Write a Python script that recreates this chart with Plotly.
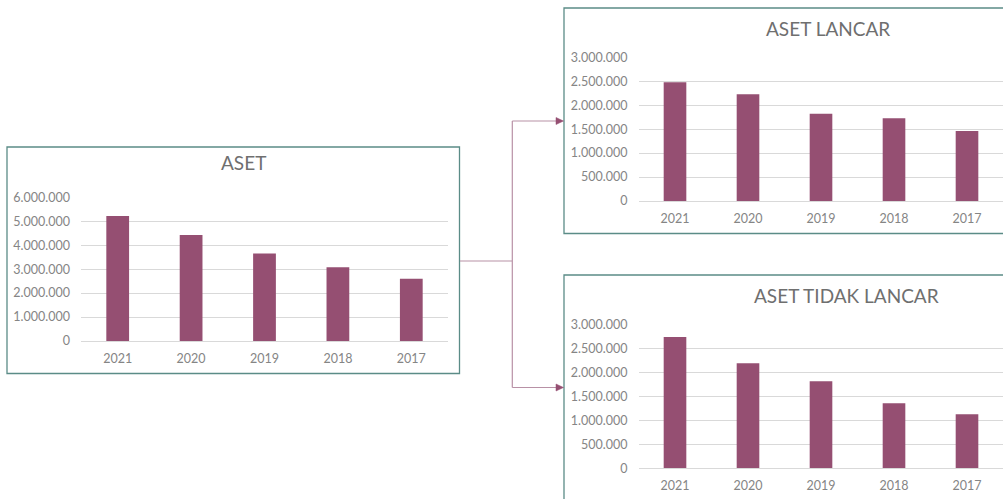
import plotly.graph_objects as go

years = ["2021", "2020", "2019", "2018", "2017"]
aset = [5220000, 4430000, 3650000, 3080000, 2600000]
aset_lancar = [2480000, 2230000, 1820000, 1730000, 1460000]
aset_tidak_lancar = [2750000, 2200000, 1820000, 1360000, 1130000]
titles = ["ASET", "ASET LANCAR", "ASET TIDAK LANCAR"]

W, H = 1003, 499
BAR = "#954f72"
GRID = "#d9d9d9"
BORDER = "#5b8c87"
CONN = "#b891a6"
TICK = "#858585"
FONT = "Lato"


def X(px):
    return px / W


def Y(py):
    return 1 - py / H


fig = go.Figure()

panels = [
    (aset, "", (81, 448), (341, 197.3), 6000000, 1000000),
    (aset_lancar, "2", (638.5, 1003), (201, 57.3), 3000000, 500000),
    (aset_tidak_lancar, "3", (638.5, 1003), (468.3, 325), 3000000, 500000),
]

layout_axes = {}
for vals, sid, (x0, x1), (yb, yt), ymax, dt in panels:
    fig.add_trace(go.Bar(
        x=years, y=vals, marker=dict(color=BAR, line=dict(width=0)),
        xaxis="x" + sid, yaxis="y" + sid, showlegend=False,
        hoverinfo="x+y",
    ))
    xr = [-0.5, 4.5] if x1 - x0 > 366 else [-0.5, -0.5 + (x1 - x0) / 73.0]
    layout_axes["xaxis" + sid] = dict(
        domain=[X(x0), X(x1)], anchor="y" + sid, type="category",
        range=xr, showgrid=False, zeroline=False, showline=True,
        linecolor=GRID, linewidth=1, ticks="", ticklabelstandoff=6,
        automargin=False,
        tickfont=dict(family=FONT, size=12.5, color=TICK), fixedrange=True,
    )
    layout_axes["yaxis" + sid] = dict(
        domain=[Y(yb), Y(yt)], anchor="x" + sid, range=[0, ymax],
        dtick=dt, tick0=0, showgrid=True, gridcolor=GRID, gridwidth=1,
        zeroline=False, showline=False, ticks="", ticklabelstandoff=10,
        tickformat=",d", automargin=False,
        tickfont=dict(family=FONT, size=12.5, color=TICK), fixedrange=True,
    )

shapes = []
for (bx0, by0, bx1, by1) in [(7, 147, 459.5, 373.5), (564, 8, 1015, 233.5), (564, 275, 1015, 515)]:
    shapes.append(dict(type="rect", xref="paper", yref="paper",
                       x0=X(bx0), x1=X(bx1), y0=Y(by1), y1=Y(by0),
                       line=dict(color=BORDER, width=1.3), layer="above"))

path = (f"M {X(460)} {Y(261)} L {X(512.3)} {Y(261)} "
        f"M {X(512.3)} {Y(121)} L {X(512.3)} {Y(387.5)} "
        f"M {X(512.3)} {Y(121)} L {X(557)} {Y(121)} "
        f"M {X(512.3)} {Y(387.5)} L {X(557)} {Y(387.5)}")
shapes.append(dict(type="path", xref="paper", yref="paper", path=path,
                   line=dict(color=CONN, width=1.2)))
for ay in (121, 387.5):
    tri = (f"M {X(563.5)} {Y(ay)} L {X(556)} {Y(ay - 3.5)} "
           f"L {X(556)} {Y(ay + 3.5)} Z")
    shapes.append(dict(type="path", xref="paper", yref="paper", path=tri,
                       fillcolor=BAR, line=dict(color=BAR, width=0.5)))

annotations = []
for t, (cx, cy) in zip(titles, [(243, 162), (828, 28.5), (846, 295)]):
    annotations.append(dict(text=t, x=X(cx), y=Y(cy), xref="paper", yref="paper",
                            xanchor="center", yanchor="middle", showarrow=False,
                            font=dict(family=FONT, size=19, color="#6f6f6f")))

fig.update_layout(
    width=W, height=H,
    margin=dict(l=0, r=0, t=0, b=0, pad=0, autoexpand=False),
    paper_bgcolor="white", plot_bgcolor="white",
    separators=",.", bargap=0.69, showlegend=False,
    shapes=shapes, annotations=annotations, **layout_axes,
)

fig.write_html("out.html", config={"displayModeBar": False})
